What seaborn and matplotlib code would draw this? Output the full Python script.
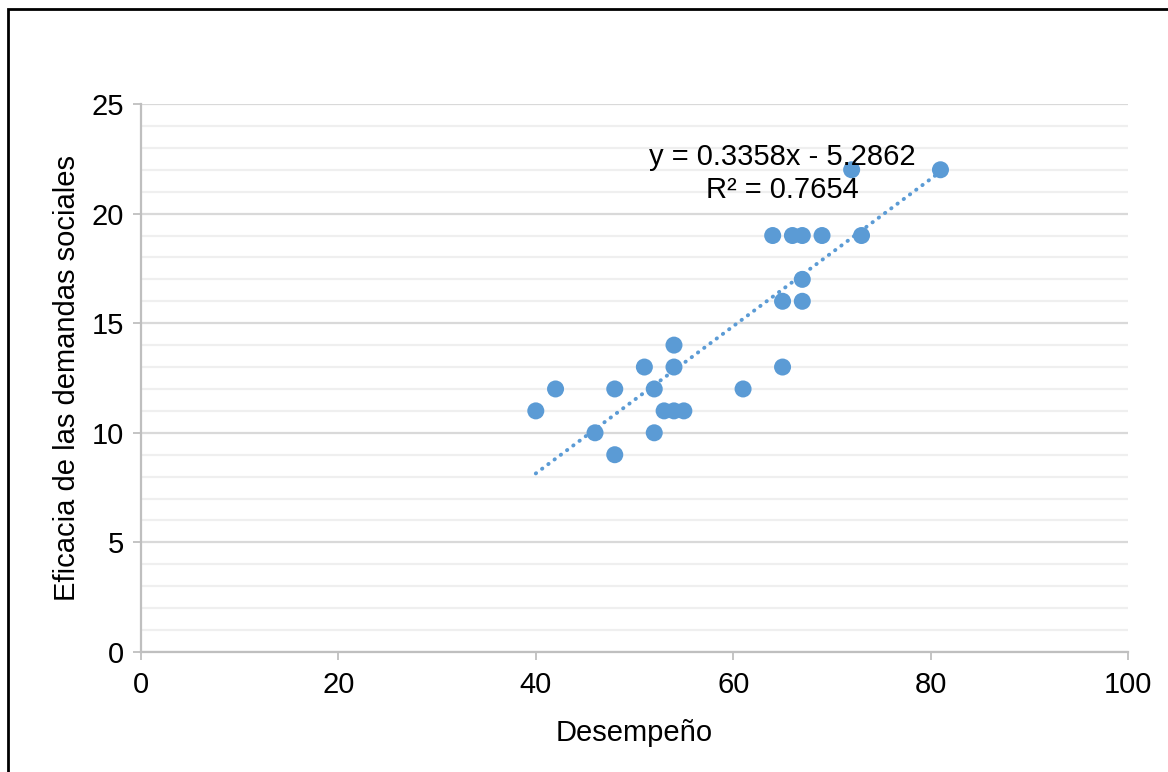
# -*- coding: utf-8 -*-
"""
Dispersión: Desempeño vs Eficacia de las demandas sociales, con línea de tendencia.
"""

import numpy as np
import pandas as pd
import matplotlib.pyplot as plt
from matplotlib.patches import Rectangle
from matplotlib.ticker import MultipleLocator
import seaborn as sns

# Datos
desempeno = [40, 42, 46, 48, 48, 51, 52, 52, 53, 54, 55, 54, 54, 61,
             64, 65, 65, 66, 67, 67, 67, 69, 72, 73, 81]
eficacia = [11, 12, 10, 12, 9, 13, 12, 10, 11, 11, 11, 13, 14, 12,
            19, 16, 13, 19, 19, 17, 16, 19, 22, 19, 22]

# Línea de tendencia (según la ecuación mostrada)
pendiente = 0.3358
intercepto = -5.2862
r2 = 0.7654

azul = '#5b9bd5'
gris = '#bfbfbf'
fs = 21

df = pd.DataFrame({'Desempeño': desempeno, 'Eficacia': eficacia})

sns.set_theme(style='white')
plt.rcParams['font.family'] = ['Liberation Sans', 'DejaVu Sans']

fig = plt.figure(figsize=(11.68, 7.72), dpi=100)
ax = fig.add_axes([141 / 1168, 1 - 652 / 772, (1128 - 141) / 1168, (652 - 104) / 772])

sns.scatterplot(data=df, x='Desempeño', y='Eficacia', ax=ax, color=azul,
                s=150, edgecolor='none', zorder=3)

# Tendencia lineal entre el mínimo y el máximo de x
xs = np.array([df['Desempeño'].min(), df['Desempeño'].max()])
ax.plot(xs, pendiente * xs + intercepto, color=azul, lw=2.8,
        linestyle=(0, (0.1, 1.9)), dash_capstyle='round', zorder=2)

ax.set_xlim(0, 100)
ax.set_ylim(0, 25)
ax.xaxis.set_major_locator(MultipleLocator(20))
ax.yaxis.set_major_locator(MultipleLocator(5))
ax.yaxis.set_minor_locator(MultipleLocator(1))

ax.set_axisbelow(True)
ax.grid(which='major', axis='y', color='#d9d9d9', lw=1.6)
ax.grid(which='minor', axis='y', color='#efefef', lw=1.6)
ax.grid(which='major', axis='x', visible=False)

for lado in ['top', 'right']:
    ax.spines[lado].set_visible(False)
for lado in ['left', 'bottom']:
    ax.spines[lado].set_color(gris)
    ax.spines[lado].set_linewidth(1.6)

ax.tick_params(which='major', axis='both', direction='out', length=6, width=1.3,
               color=gris, labelsize=fs, labelcolor='black', pad=6)
ax.tick_params(which='minor', length=0)
ax.tick_params(axis='x', bottom=True, pad=8)
ax.tick_params(axis='y', left=True)

ax.set_xlabel('Desempeño', fontsize=fs, color='black', labelpad=14)
ax.set_ylabel('Eficacia de las demandas sociales', fontsize=fs, color='black', labelpad=8)

# Ecuación de la línea de tendencia
ax.text(65.0, 22.58, f'y = {pendiente}x - {abs(intercepto)}', ha='center', va='center',
        fontsize=fs, color='black', zorder=4)
ax.text(65.0, 21.08, f'R² = {r2}', ha='center', va='center',
        fontsize=fs, color='black', zorder=4)

# Marco exterior del gráfico
fig.patches.append(Rectangle((8 / 1168, -0.1), 1.2, 1 - 9 / 772 + 0.1,
                             transform=fig.transFigure, fill=False,
                             edgecolor='black', lw=2, zorder=10))

fig.savefig('out.png', dpi=100)
plt.close(fig)
